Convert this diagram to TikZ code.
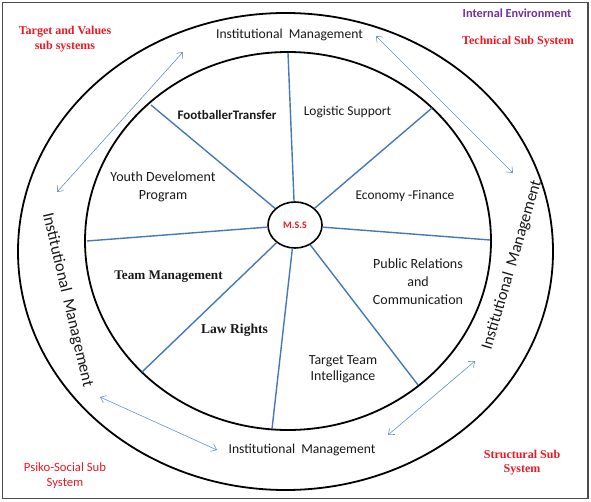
\documentclass[tikz,border=0pt]{standalone}
\usepackage{fontspec}
\setmainfont{Liberation Serif}
\newfontfamily\carl{Carlito}
\usetikzlibrary{shapes.geometric,arrows.meta}
\definecolor{spoke}{RGB}{70,120,185}
\definecolor{arr}{RGB}{100,145,205}
\definecolor{redt}{RGB}{235,25,35}
\definecolor{purp}{RGB}{112,48,160}
\tikzset{
  px/.style={x=1pt,y=-1pt},
  ring/.style={draw=black,line width=1.8pt},
  spk/.style={draw=spoke,line width=1.4pt},
  dbl/.style={draw=arr,line width=0.6pt,{Straight Barb[length=5pt,width=8pt]}-{Straight Barb[length=5pt,width=8pt]}},
  lab/.style={font=\carl\fontsize{13.5}{18}\selectfont,align=center,inner sep=0pt,text=black!90},
  inst/.style={font=\carl\fontsize{13.6}{15}\selectfont,inner sep=0pt,text=black!90},
  redlab/.style={font=\bfseries\fontsize{12}{14}\selectfont,align=center,inner sep=0pt,text=redt},
}
\begin{document}
\begin{tikzpicture}[px]
\useasboundingbox (0,0) rectangle (591,502);
\draw[black!70,line width=1.5pt] (2.5,2.5) rectangle (588,498.5);
% ellipses
\draw[ring] (285.5,251.5) ellipse [x radius=267.5, y radius=238.5];
\draw[ring] (288,241) ellipse [x radius=203, y radius=189];
% center
\node[ellipse,draw=black,line width=1.6pt,fill=white,minimum width=54pt,minimum height=46pt,inner sep=0pt,
  font=\carl\bfseries\fontsize{10}{12}\selectfont,text=redt] (mss) at (295,225) {M.S.S};
% spoke ends
\coordinate (s1) at (288,53);
\coordinate (s2) at (432,108);
\coordinate (s3) at (490,240);
\coordinate (s4) at (418,385);
\coordinate (s5) at (272,429);
\coordinate (s6) at (142,372);
\coordinate (s7) at (87,241);
\coordinate (s8) at (151,105);
\foreach \s in {s1,s2,s3,s4,s5,s6,s7,s8} \draw[spk] (mss) -- (\s);
% sector labels
\node[lab,font=\carl\bfseries\fontsize{13}{15}\selectfont] (ft) at (227,115) {FootballerTransfer};
\node[lab] (ls) at (347.5,112) {Logistic Support};
\node[lab,font=\carl\fontsize{13.4}{15}\selectfont] (ef) at (405,196) {Economy -Finance};
\node[lab,font=\carl\fontsize{14}{18}\selectfont] (yd) at (163,187) {Youth Develoment\\Program};
\node[lab,font=\bfseries\fontsize{13.2}{15}\selectfont] (tm) at (168.5,277) {Team Management};
\node[lab,font=\bfseries\fontsize{13.6}{15}\selectfont] (lr) at (234.5,330) {Law Rights};
\node[lab,font=\carl\fontsize{14}{18}\selectfont] (pr) at (418,282) {Public Relations\\and\\Communication};
\node[lab,font=\carl\fontsize{13.9}{16.5}\selectfont] (tt) at (343,369) {Target Team\\Intelligance};
% ring labels
\node[inst] (it) at (289.5,35) {Institutional\ \ Management};
\node[inst] (ib) at (302,450) {Institutional\ \ Management};
\node[inst,font=\carl\fontsize{16.5}{18}\selectfont,rotate=-76.8] (il) at (67.5,300) {Institutional\ \ Management};
\node[inst,font=\carl\fontsize{16.3}{18}\selectfont,rotate=73.5] (ir) at (512,265) {Institutional\ \ Management};
% corner labels
\node[redlab,font=\bfseries\fontsize{12}{15}\selectfont] (tv) at (65,39.5) {Target and Values\\sub systems};
\node[inst,font=\carl\bfseries\fontsize{12.3}{14}\selectfont,text=purp] (ie) at (517,13) {Internal Environment};
\node[redlab] (ts) at (518,42) {Technical Sub System};
\node[lab,font=\carl\fontsize{12.7}{15}\selectfont,text=redt] (ps) at (65,475.5) {Psiko-Social Sub\\System};
\node[redlab] (ss) at (522,463) {Structural Sub\\System};
% double arrows
\coordinate (a1) at (57,192); \coordinate (a2) at (183,52);
\coordinate (b1) at (376,36); \coordinate (b2) at (513,173);
\coordinate (c1) at (100,397); \coordinate (c2) at (217,450);
\coordinate (d1) at (475,361); \coordinate (d2) at (388,435);
\draw[dbl] (a1) -- (a2);
\draw[dbl] (b1) -- (b2);
\draw[dbl] (c1) -- (c2);
\draw[dbl] (d1) -- (d2);
\end{tikzpicture}
\end{document}
